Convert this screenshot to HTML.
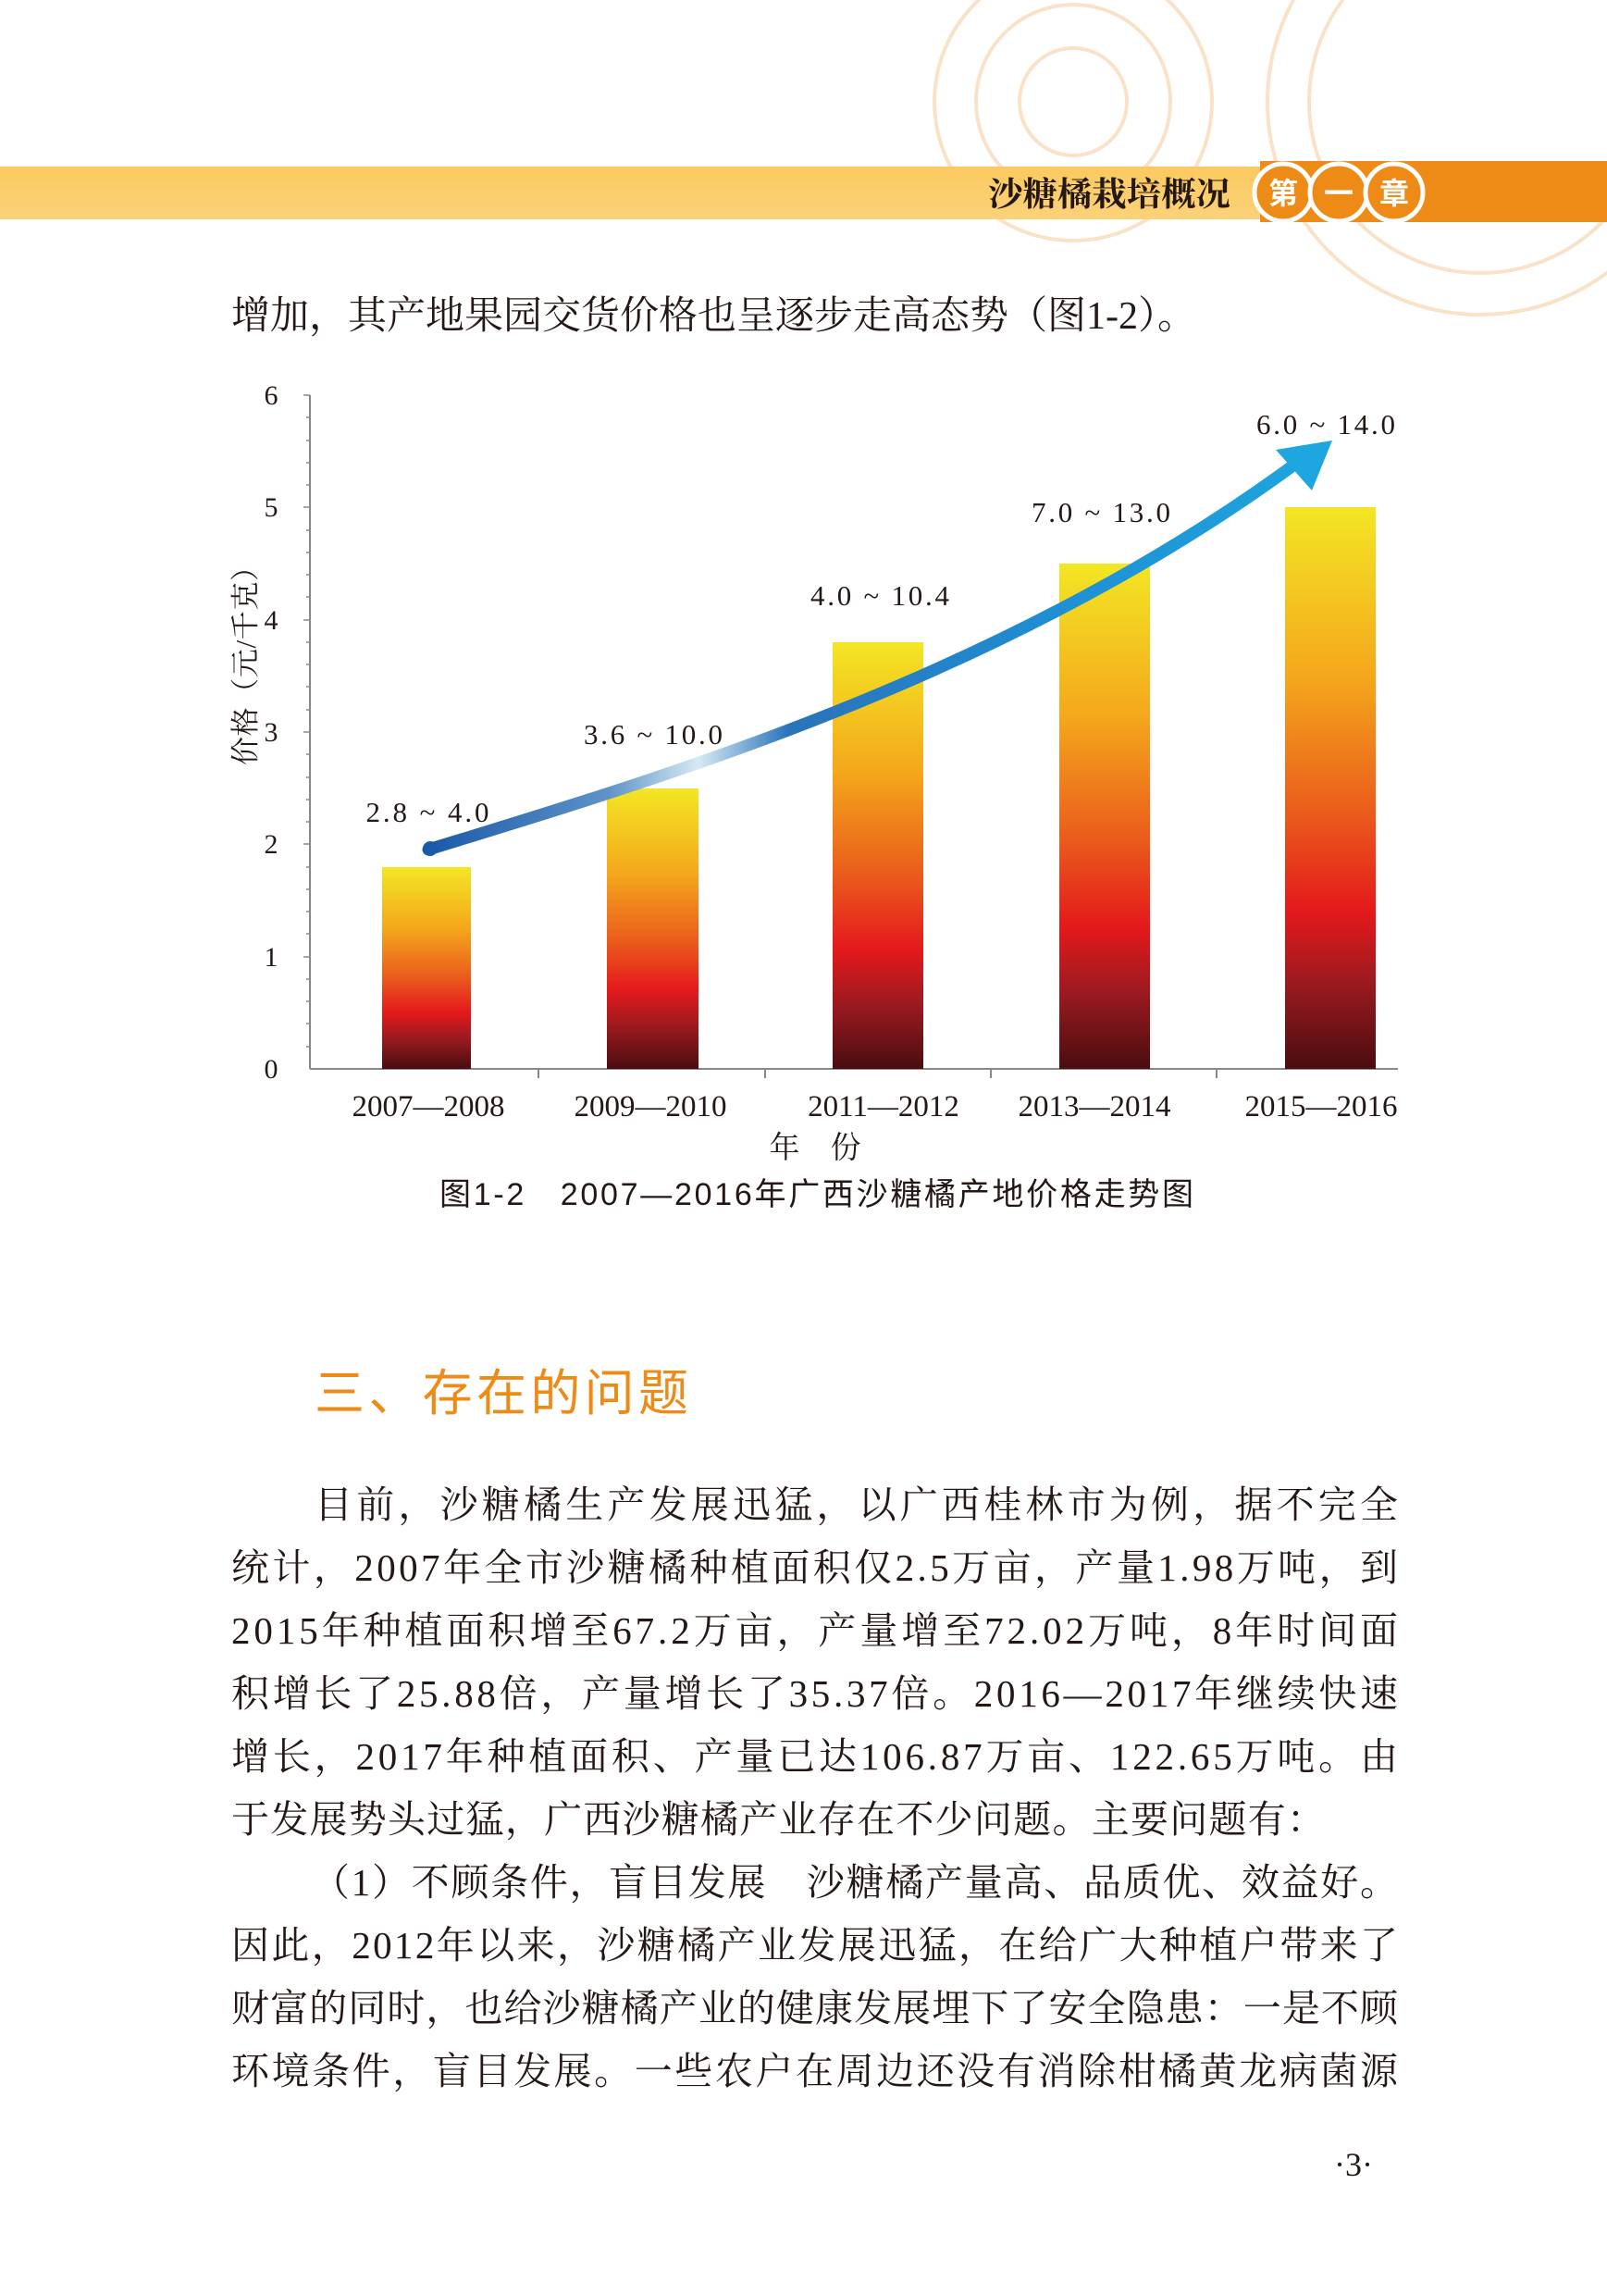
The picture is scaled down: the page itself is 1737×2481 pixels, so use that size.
<!DOCTYPE html>
<html><head><meta charset="utf-8"><style>
html,body{margin:0;padding:0;background:#fff;}
svg{display:block;}
.b{font-family:"Liberation Serif","Noto Serif CJK SC",serif;fill:#231815;}
.s{font-family:"Liberation Sans","Noto Sans CJK SC",sans-serif;fill:#231815;}
</style></head><body>
<svg width="1737" height="2481" viewBox="0 0 1737 2481" xmlns="http://www.w3.org/2000/svg">
<defs>
<linearGradient id="bar" x1="0" y1="0" x2="0" y2="1">
<stop offset="0" stop-color="#f3e624"/><stop offset="0.3" stop-color="#f4a81c"/><stop offset="0.55" stop-color="#ea5a1c"/><stop offset="0.72" stop-color="#e4191c"/><stop offset="0.85" stop-color="#9a1a20"/><stop offset="1" stop-color="#4a0d10"/>
</linearGradient>
<linearGradient id="arr" gradientUnits="userSpaceOnUse" x1="463" y1="0" x2="1436" y2="0">
<stop offset="0" stop-color="#1a5aa8"/><stop offset="0.2" stop-color="#5f93c8"/><stop offset="0.3" stop-color="#d6eaf2"/><stop offset="0.4" stop-color="#2a73ba"/><stop offset="0.7" stop-color="#1f8fd3"/><stop offset="1" stop-color="#1ea6e0"/>
</linearGradient>
<linearGradient id="band" x1="0" y1="0" x2="0" y2="1"><stop offset="0" stop-color="#fbc95f"/><stop offset="1" stop-color="#fbd27a"/></linearGradient>
</defs>
<g fill="none" stroke="#f7d9b5" stroke-width="4" opacity="0.75">
<circle cx="1160" cy="110" r="58"/><circle cx="1160" cy="110" r="105"/><circle cx="1160" cy="110" r="150"/>
<circle cx="1600" cy="110" r="185"/><circle cx="1600" cy="110" r="230"/>
</g>
<rect x="0" y="180" width="1362" height="57" fill="url(#band)"/>
<rect x="1362" y="174" width="375" height="66" fill="#ee8a16"/>
<text x="1068" y="222" class="b" font-size="36" font-weight="bold" fill="#231815" textLength="262" lengthAdjust="spacingAndGlyphs">沙糖橘栽培概况</text>
<g font-family="Liberation Sans,Noto Sans CJK SC,sans-serif" font-size="32" font-weight="bold" fill="#fff" text-anchor="middle">
<circle cx="1387" cy="208" r="31" fill="#ee8a16" stroke="#fff" stroke-width="5"/><text x="1387" y="220">第</text>
<circle cx="1447" cy="208" r="31" fill="#ee8a16" stroke="#fff" stroke-width="5"/><text x="1447" y="220">一</text>
<circle cx="1507" cy="208" r="31" fill="#ee8a16" stroke="#fff" stroke-width="5"/><text x="1507" y="220">章</text>
</g>
<text x="250" y="355" class="b" font-size="42">增加，其产地果园交货价格也呈逐步走高态势（图1-2）。</text>
<g stroke="#888" stroke-width="2" fill="none">
<line x1="335" y1="427" x2="335" y2="1155"/><line x1="335" y1="1155" x2="1511" y2="1155"/>
<line x1="582" y1="1155" x2="582" y2="1165"/><line x1="827" y1="1155" x2="827" y2="1165"/><line x1="1071" y1="1155" x2="1071" y2="1165"/><line x1="1315" y1="1155" x2="1315" y2="1165"/>
</g>
<g stroke="#888" stroke-width="1.5">
<line x1="328" y1="427" x2="335" y2="427"/><line x1="331" y1="451" x2="335" y2="451"/><line x1="331" y1="476" x2="335" y2="476"/><line x1="331" y1="500" x2="335" y2="500"/><line x1="331" y1="524" x2="335" y2="524"/>
<line x1="328" y1="548" x2="335" y2="548"/><line x1="331" y1="573" x2="335" y2="573"/><line x1="331" y1="597" x2="335" y2="597"/><line x1="331" y1="621" x2="335" y2="621"/><line x1="331" y1="645" x2="335" y2="645"/>
<line x1="328" y1="670" x2="335" y2="670"/><line x1="331" y1="694" x2="335" y2="694"/><line x1="331" y1="718" x2="335" y2="718"/><line x1="331" y1="742" x2="335" y2="742"/><line x1="331" y1="767" x2="335" y2="767"/>
<line x1="328" y1="791" x2="335" y2="791"/><line x1="331" y1="815" x2="335" y2="815"/><line x1="331" y1="840" x2="335" y2="840"/><line x1="331" y1="864" x2="335" y2="864"/><line x1="331" y1="888" x2="335" y2="888"/>
<line x1="328" y1="912" x2="335" y2="912"/><line x1="331" y1="937" x2="335" y2="937"/><line x1="331" y1="961" x2="335" y2="961"/><line x1="331" y1="985" x2="335" y2="985"/><line x1="331" y1="1009" x2="335" y2="1009"/>
<line x1="328" y1="1034" x2="335" y2="1034"/><line x1="331" y1="1058" x2="335" y2="1058"/><line x1="331" y1="1082" x2="335" y2="1082"/><line x1="331" y1="1106" x2="335" y2="1106"/><line x1="331" y1="1131" x2="335" y2="1131"/>
</g>
<g class="b" font-size="30" text-anchor="middle">
<text x="293" y="437" class="b">6</text><text x="293" y="558" class="b">5</text><text x="293" y="680" class="b">4</text><text x="293" y="801" class="b">3</text><text x="293" y="922" class="b">2</text><text x="293" y="1044" class="b">1</text><text x="293" y="1165" class="b">0</text>
</g>
<text transform="translate(276,712) rotate(-90)" class="b" font-size="31" text-anchor="middle" textLength="230" lengthAdjust="spacing">价格（元/千克）</text>
<rect x="413" y="937" width="96" height="218" fill="url(#bar)"/>
<rect x="656" y="852" width="99" height="303" fill="url(#bar)"/>
<rect x="900" y="694" width="98" height="461" fill="url(#bar)"/>
<rect x="1145" y="609" width="98" height="546" fill="url(#bar)"/>
<rect x="1389" y="548" width="98" height="607" fill="url(#bar)"/>
<path d="M463 918 C 700 845, 1080 735, 1395 505" fill="none" stroke="url(#arr)" stroke-width="13" stroke-linecap="round"/>
<circle cx="465" cy="917" r="8" fill="#1a5aa8"/>
<polygon points="1440,476 1379,486 1418,530" fill="#1ea6e0"/>
<g class="b" font-size="31" text-anchor="middle">
<text x="462" y="888" class="b" textLength="133" lengthAdjust="spacing">2.8 ~ 4.0</text>
<text x="706" y="804" class="b" textLength="150" lengthAdjust="spacing">3.6 ~ 10.0</text>
<text x="951" y="654" class="b" textLength="150" lengthAdjust="spacing">4.0 ~ 10.4</text>
<text x="1190" y="564" class="b" textLength="150" lengthAdjust="spacing">7.0 ~ 13.0</text>
<text x="1433" y="469" class="b" textLength="150" lengthAdjust="spacing">6.0 ~ 14.0</text>
</g>
<g class="b" font-size="33" text-anchor="middle">
<text x="463" y="1206" class="b">2007—2008</text>
<text x="703" y="1206" class="b">2009—2010</text>
<text x="955" y="1206" class="b">2011—2012</text>
<text x="1183" y="1206" class="b">2013—2014</text>
<text x="1428" y="1206" class="b">2015—2016</text>
<text x="881" y="1251" class="b">年　份</text>
</g>
<text x="475" y="1302" class="s" font-size="34" textLength="815" lengthAdjust="spacing">图1-2　2007—2016年广西沙糖橘产地价格走势图</text>
<text x="340" y="1524" font-family="Liberation Sans,Noto Sans CJK SC,sans-serif" font-size="54" fill="#ee8a16" textLength="404" lengthAdjust="spacing">三、存在的问题</text>
<g class="b" font-size="41">
<text x="340" y="1640" class="b" textLength="1171" lengthAdjust="spacing">目前，沙糖橘生产发展迅猛，以广西桂林市为例，据不完全</text>
<text x="250" y="1708" class="b" textLength="1261" lengthAdjust="spacing">统计，2007年全市沙糖橘种植面积仅2.5万亩，产量1.98万吨，到</text>
<text x="250" y="1776" class="b" textLength="1261" lengthAdjust="spacing">2015年种植面积增至67.2万亩，产量增至72.02万吨，8年时间面</text>
<text x="250" y="1844" class="b" textLength="1261" lengthAdjust="spacing">积增长了25.88倍，产量增长了35.37倍。2016—2017年继续快速</text>
<text x="250" y="1912" class="b" textLength="1261" lengthAdjust="spacing">增长，2017年种植面积、产量已达106.87万亩、122.65万吨。由</text>
<text x="250" y="1980" class="b" textLength="1182" lengthAdjust="spacing">于发展势头过猛，广西沙糖橘产业存在不少问题。主要问题有：</text>
<text x="337" y="2048" class="b" textLength="1174" lengthAdjust="spacing">（1）不顾条件，盲目发展　沙糖橘产量高、品质优、效益好。</text>
<text x="250" y="2116" class="b" textLength="1261" lengthAdjust="spacing">因此，2012年以来，沙糖橘产业发展迅猛，在给广大种植户带来了</text>
<text x="250" y="2184" class="b" textLength="1261" lengthAdjust="spacing">财富的同时，也给沙糖橘产业的健康发展埋下了安全隐患：一是不顾</text>
<text x="250" y="2252" class="b" textLength="1261" lengthAdjust="spacing">环境条件，盲目发展。一些农户在周边还没有消除柑橘黄龙病菌源</text>
</g>
<text x="1463" y="2351" class="b" font-size="36" text-anchor="middle">·3·</text>
</svg>
</body></html>
